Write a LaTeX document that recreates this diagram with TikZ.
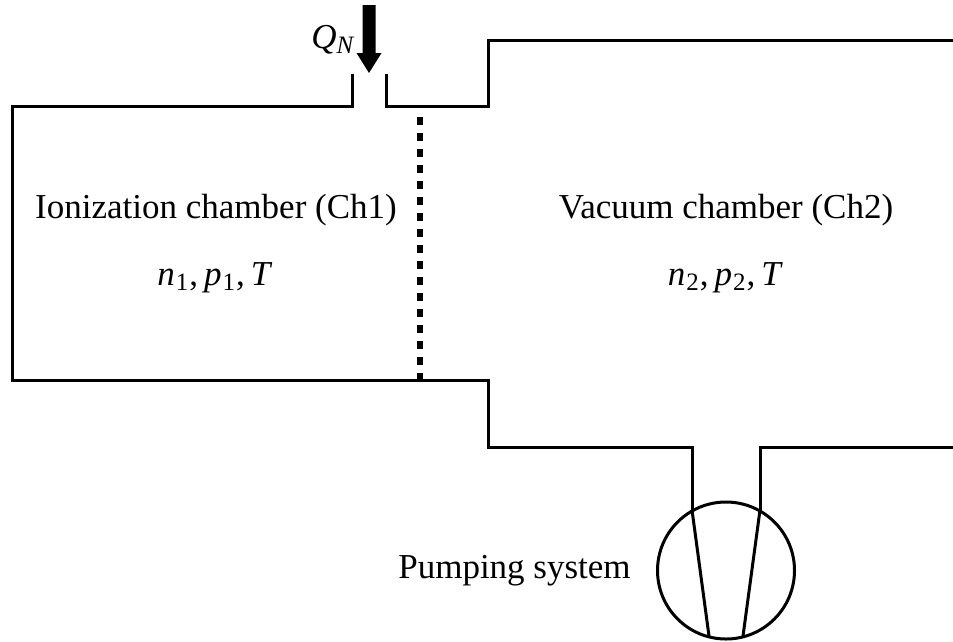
\documentclass[tikz,border=0pt]{standalone}
\usepackage{fontspec}
\setmainfont{Liberation Serif}
\newcommand{\subm}[1]{\raisebox{-0.33ex}{\fontsize{25}{25}\selectfont #1}}
\newcommand{\vars}[1]{\textit{n}\kern1pt\subm{#1}\kern1pt,\kern6pt\textit{p}\kern1pt\subm{#1}\kern1pt,\kern6pt\textit{T}}
\tikzset{
  wall/.style={draw=black,line width=3pt,line join=miter,line cap=butt},
  lbl/.style={inner sep=0pt,font=\fontsize{35}{40}\selectfont,text=black}
}
\begin{document}
\begin{tikzpicture}[x=1pt,y=-1pt]
\useasboundingbox (0,0) rectangle (953,641);
% walls
\draw[wall] (352,74) -- (352,106) -- (12,106) -- (12,380) -- (488,380) -- (488,447) -- (692,447) -- (692,510);
\draw[wall] (386,74) -- (386,106) -- (488,106) -- (488,40) -- (953,40);
\draw[wall] (953,447) -- (760,447) -- (760,510);
% membrane
\draw[draw=black,line width=5.5pt,dash pattern=on 8pt off 8pt] (420,117) -- (420,380);
% pump
\node[draw=black,line width=3pt,circle,minimum size=137pt,inner sep=0pt] (pump) at (726,570.5) {};
\coordinate (pl) at (692,510);
\coordinate (pr) at (760,510);
\coordinate (bl) at (709,636);
\coordinate (br) at (743,636);
\draw[wall] (pl) -- (bl);
\draw[wall] (pr) -- (br);
% inlet arrow
\fill[black] (362.5,5) -- (375.5,5) -- (375.5,53) -- (381.5,53) -- (369,73) -- (356.5,53) -- (362.5,53) -- cycle;
% labels
\node[lbl,anchor=base] (ch1) at (216,218) {Ionization chamber (Ch1)};
\node[lbl,anchor=base] (ch2) at (726,218) {Vacuum chamber (Ch2)};
\node[lbl,anchor=base] (v1) at (215,285) {\vars{1}};
\node[lbl,anchor=base] (v2) at (725.5,285) {\vars{2}};
\node[lbl,anchor=base] (ps) at (514.5,578) {Pumping system};
\node[lbl,anchor=base] (q) at (333,48) {\textit{Q}\subm{\textit{N}}};
\end{tikzpicture}
\end{document}
